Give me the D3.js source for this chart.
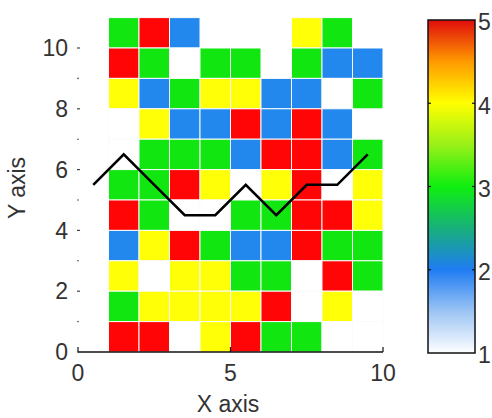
<!DOCTYPE html>
<html>
<head>
<meta charset="utf-8">
<script src="https://cdn.jsdelivr.net/npm/d3@7"></script>
<style>
  html, body { margin: 0; padding: 0; background: #fff; }
  svg { display: block; }
  text { font-family: "Liberation Sans", Arial, sans-serif; fill: #333; }
</style>
</head>
<body>
<svg id="chart" width="492" height="418"></svg>
<script>
// Grid columns start (x lower edge) and rows start (y lower edge)
const colStarts = [1, 2, 3, 4, 5, 6, 7, 8, 9];
const rowStarts = [10, 9, 8, 7, 6, 5, 4, 3, 2, 1, 0];
// Cell values (1 = white, 2 = blue, 3 = green, 4 = yellow, 5 = red, null = empty), rows top to bottom
const cellValues = [
  [3, 5, 2, null, null, null, 4, 3, null],
  [5, 3, 1, 3, 3, null, 3, 2, 2],
  [4, 2, 3, 4, 4, 2, 2, 1, 3],
  [1, 4, 2, 2, 5, 2, 5, 2, null],
  [1, 3, 3, 3, 2, 5, 5, 2, 3],
  [3, 3, 5, 4, 1, 4, 5, 1, 4],
  [5, 3, 1, 1, 3, 3, 5, 5, 4],
  [2, 4, 5, 3, 2, 2, 5, 3, 3],
  [4, 1, 4, 4, 3, 3, 1, 5, 3],
  [3, 4, 4, 4, 4, 5, 1, 4, 1],
  [5, 5, 1, 4, 5, 3, 3, 1, 1]
];
// Overlay line
const lineX = [0.5, 1.5, 2.5, 3.5, 4.5, 5.5, 6.5, 7.5, 8.5, 9.5];
const lineY = [5.5, 6.5, 5.5, 4.5, 4.5, 5.5, 4.5, 5.5, 5.5, 6.5];
// Ticks
const xTickLabels = [0, 5, 10];
const yMajorTicks = [0, 2, 4, 6, 8, 10];
const yMinorTicks = [1, 3, 5, 7, 9];
const cbarTicks = [1, 2, 3, 4, 5];
// Colormap stops
const cmapValues = [1, 1.5, 2, 2.5, 3, 3.5, 4, 4.5, 5];
const cmapColors = ["#ffffff", "#9cc4f4", "#1f7cf2", "#17b07a", "#10ee10", "#99f018", "#ffff00", "#ff9a00", "#e00c0c"];

const svg = d3.select("#chart");
const x = d3.scaleLinear().domain([0, 10]).range([78, 383]);
const y = d3.scaleLinear().domain([0, 10]).range([352, 48]);
const color = d3.scaleLinear().domain(cmapValues).range(cmapColors).interpolate(d3.interpolateRgb);
const cellColor = d3.scaleOrdinal().domain([1, 2, 3, 4, 5]).range(["#ffffff", "#2288ee", "#11e611", "#ffff08", "#ff0505"]);

// cells
const cells = [];
rowStarts.forEach((r, i) => colStarts.forEach((c, j) => {
  const v = cellValues[i][j];
  if (v !== null) cells.push({ c, r, v });
}));
svg.append("g").selectAll("rect").data(cells).join("rect")
  .attr("x", d => x(d.c))
  .attr("y", d => y(d.r + 1))
  .attr("width", d => x(d.c + 1) - x(d.c))
  .attr("height", d => y(d.r) - y(d.r + 1))
  .attr("fill", d => cellColor(d.v))
  .attr("stroke", "#fafcfc")
  .attr("stroke-width", 1);

// x axis
const xAxis = svg.append("g");
xAxis.append("line").attr("x1", x(0)).attr("x2", x(10)).attr("y1", y(0)).attr("y2", y(0))
  .attr("stroke", "#111").attr("stroke-width", 1.5);
xAxis.selectAll("line.tick").data(xTickLabels).join("line").attr("class", "tick")
  .attr("x1", d => x(d)).attr("x2", d => x(d)).attr("y1", y(0)).attr("y2", y(0) - 5)
  .attr("stroke", "#111").attr("stroke-width", 1.2);
xAxis.selectAll("text").data(xTickLabels).join("text")
  .attr("x", d => x(d)).attr("y", 381).attr("text-anchor", "middle")
  .attr("font-size", 23).text(d => d);
svg.append("text").attr("x", 228).attr("y", 412).attr("text-anchor", "middle")
  .attr("font-size", 23).text("X axis");

// y axis
const yAxis = svg.append("g");
yAxis.selectAll("line.maj").data(yMajorTicks).join("line").attr("class", "maj")
  .attr("x1", x(0) - 1).attr("x2", x(0) + 2).attr("y1", d => y(d)).attr("y2", d => y(d))
  .attr("stroke", "#444").attr("stroke-width", 1.2);
yAxis.selectAll("circle").data(yMinorTicks).join("circle")
  .attr("cx", x(0)).attr("cy", d => y(d)).attr("r", 0.8).attr("fill", "#444");
yAxis.selectAll("text").data(yMajorTicks).join("text")
  .attr("x", 68).attr("y", d => y(d)).attr("dy", "0.36em").attr("text-anchor", "end")
  .attr("font-size", 23).text(d => d);
svg.append("text").attr("transform", "translate(25,188) rotate(-90)").attr("text-anchor", "middle")
  .attr("font-size", 23).text("Y axis");

// overlay line
const pts = lineX.map((v, i) => [v, lineY[i]]);
svg.append("path").datum(pts)
  .attr("d", d3.line().x(d => x(d[0])).y(d => y(d[1])))
  .attr("fill", "none").attr("stroke", "#000").attr("stroke-width", 2.6)
  .attr("stroke-linejoin", "miter");

// colorbar
const cb = d3.scaleLinear().domain([1, 5]).range([353, 20]);
const cbX = 428, cbW = 47;
const grad = svg.append("defs").append("linearGradient").attr("id", "cbgrad")
  .attr("x1", 0).attr("y1", 1).attr("x2", 0).attr("y2", 0);
const gradStops = d3.range(0, 41).map(i => 1 + i * 0.1);
grad.selectAll("stop").data(gradStops).join("stop")
  .attr("offset", d => (d - 1) / 4).attr("stop-color", d => color(d));
svg.append("rect").attr("x", cbX).attr("y", cb(5)).attr("width", cbW).attr("height", cb(1) - cb(5))
  .attr("fill", "url(#cbgrad)").attr("stroke", "#111").attr("stroke-width", 1.5);
const cbg = svg.append("g");
cbg.selectAll("line.l").data(cbarTicks.slice(1, 4)).join("line").attr("class", "l")
  .attr("x1", cbX).attr("x2", cbX + 3).attr("y1", d => cb(d)).attr("y2", d => cb(d))
  .attr("stroke", "#111").attr("stroke-width", 1.2);
cbg.selectAll("line.r").data(cbarTicks.slice(1, 4)).join("line").attr("class", "r")
  .attr("x1", cbX + cbW - 3).attr("x2", cbX + cbW).attr("y1", d => cb(d)).attr("y2", d => cb(d))
  .attr("stroke", "#111").attr("stroke-width", 1.2);
cbg.selectAll("text").data(cbarTicks).join("text")
  .attr("x", 478).attr("y", d => cb(d) + 2).attr("dy", "0.36em")
  .attr("font-size", 23).text(d => d);
</script>
</body>
</html>
